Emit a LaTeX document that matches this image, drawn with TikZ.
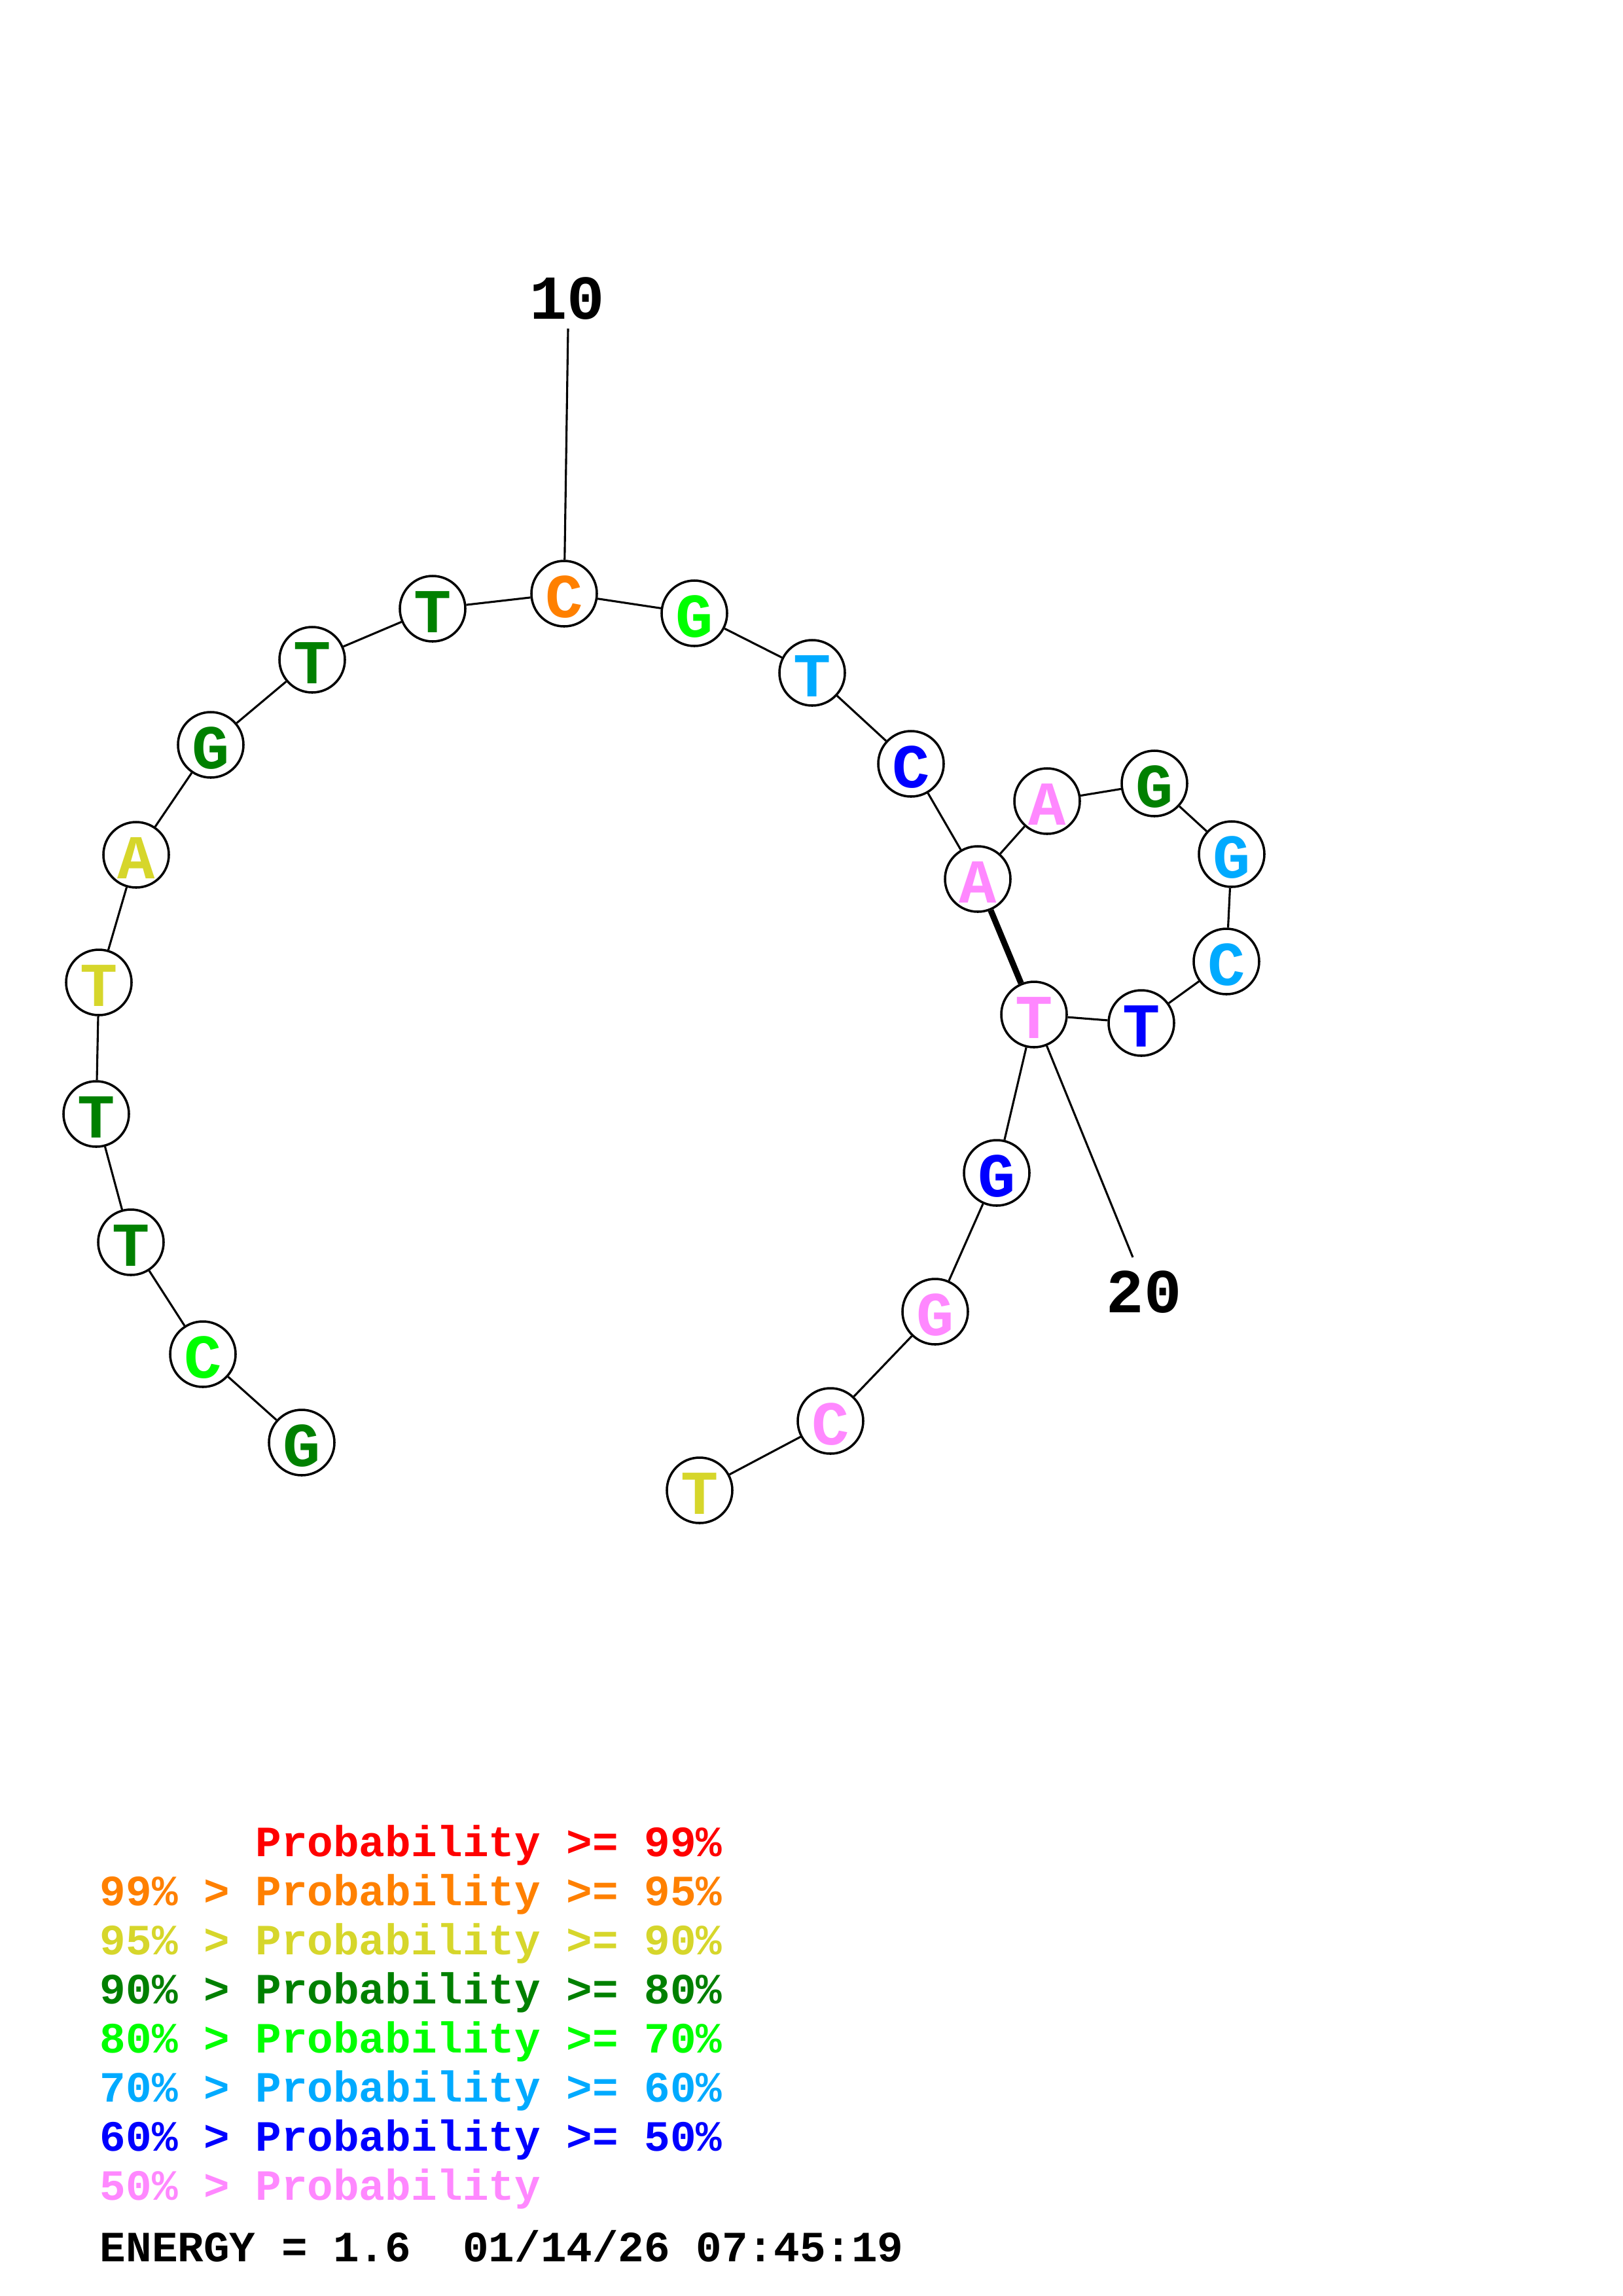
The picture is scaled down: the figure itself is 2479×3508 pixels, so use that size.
\documentclass[tikz,border=0pt]{standalone}
\usepackage{fontspec}
\setmonofont{Liberation Mono}

\definecolor{pRed}{RGB}{255,0,0}
\definecolor{pOrange}{RGB}{255,128,0}
\definecolor{pYellow}{RGB}{214,214,43}
\definecolor{pDkGreen}{RGB}{0,128,0}
\definecolor{pGreen}{RGB}{0,255,0}
\definecolor{pSky}{RGB}{0,170,255}
\definecolor{pBlue}{RGB}{0,0,255}
\definecolor{pPink}{RGB}{255,136,255}

\begin{document}
\begin{tikzpicture}[
    x=0.24bp, y=-0.24bp,
    base/.style={
        circle,
        draw=black,
        fill=white,
        line width=0.85bp,
        inner sep=0pt,
        minimum size=24bp,
        text height=17.5bp,
        text depth=0pt,
        font=\ttfamily\bfseries\fontsize{23}{23}\selectfont
    },
    link/.style={
        line width=0.75bp,
        draw=black
    },
    pair/.style={
        line width=2.2bp,
        draw=black
    },
    numlab/.style={
        inner sep=0pt,
        font=\ttfamily\bfseries\fontsize{23}{23}\selectfont
    },
    legend/.style={
        anchor=base west,
        inner sep=0pt,
        font=\ttfamily\bfseries\fontsize{15.9}{19}\selectfont
    }
]
\useasboundingbox (0,0) rectangle (2479,3508);

% Bases
\node (g1) [base, text=pDkGreen] at (461,2204) {G};
\node (c2) [base, text=pGreen] at (310,2069) {C};
\node (t3) [base, text=pDkGreen] at (200,1898) {T};
\node (t4) [base, text=pDkGreen] at (147,1702) {T};
\node (t5) [base, text=pYellow] at (151,1501) {T};
\node (a6) [base, text=pYellow] at (208,1306) {A};
\node (g7) [base, text=pDkGreen] at (322,1138) {G};
\node (t8) [base, text=pDkGreen] at (477,1008) {T};
\node (t9) [base, text=pDkGreen] at (661,930) {T};
\node (c10) [base, text=pOrange] at (862,907) {C};
\node (g11) [base, text=pGreen] at (1061,937) {G};
\node (t12) [base, text=pSky] at (1241,1028) {T};
\node (c13) [base, text=pBlue] at (1392,1167) {C};
\node (a14) [base, text=pPink] at (1494,1343) {A};
\node (a15) [base, text=pPink] at (1600,1224) {A};
\node (g16) [base, text=pDkGreen] at (1764,1197) {G};
\node (g17) [base, text=pSky] at (1882,1305) {G};
\node (c18) [base, text=pSky] at (1874,1469) {C};
\node (t19) [base, text=pBlue] at (1744,1563) {T};
\node (t20) [base, text=pPink] at (1580,1550) {T};
\node (g21) [base, text=pBlue] at (1523,1792) {G};
\node (g22) [base, text=pPink] at (1429,2004) {G};
\node (c23) [base, text=pPink] at (1269,2171) {C};
\node (t24) [base, text=pYellow] at (1069,2277) {T};

% Backbone
\draw [link] (g1) -- (c2);
\draw [link] (c2) -- (t3);
\draw [link] (t3) -- (t4);
\draw [link] (t4) -- (t5);
\draw [link] (t5) -- (a6);
\draw [link] (a6) -- (g7);
\draw [link] (g7) -- (t8);
\draw [link] (t8) -- (t9);
\draw [link] (t9) -- (c10);
\draw [link] (c10) -- (g11);
\draw [link] (g11) -- (t12);
\draw [link] (t12) -- (c13);
\draw [link] (c13) -- (a14);
\draw [link] (a14) -- (a15);
\draw [link] (a15) -- (g16);
\draw [link] (g16) -- (g17);
\draw [link] (g17) -- (c18);
\draw [link] (c18) -- (t19);
\draw [link] (t19) -- (t20);
\draw [link] (t20) -- (g21);
\draw [link] (g21) -- (g22);
\draw [link] (g22) -- (c23);
\draw [link] (c23) -- (t24);

% Pair
\draw [pair] (a14) -- (t20);

% Numbering
\coordinate (tip10) at (868,502);
\coordinate (tip20) at (1731,1921);
\draw [link] (c10) -- (tip10);
\draw [link] (t20) -- (tip20);
\node (lab10) [numlab] at (867,456) {10};
\node (lab20) [numlab] at (1748,1974) {20};

% Legend
\node (leg1) [legend, text=pRed] at (152,2836) {\phantom{99\% > }Probability >= 99\%};
\node (leg2) [legend, text=pOrange] at (152,2911) {99\% > Probability >= 95\%};
\node (leg3) [legend, text=pYellow] at (152,2986) {95\% > Probability >= 90\%};
\node (leg4) [legend, text=pDkGreen] at (152,3061) {90\% > Probability >= 80\%};
\node (leg5) [legend, text=pGreen] at (152,3136) {80\% > Probability >= 70\%};
\node (leg6) [legend, text=pSky] at (152,3211) {70\% > Probability >= 60\%};
\node (leg7) [legend, text=pBlue] at (152,3286) {60\% > Probability >= 50\%};
\node (leg8) [legend, text=pPink] at (152,3361) {50\% > Probability};
\node (energy) [legend, text=black] at (152,3455) {ENERGY = 1.6\ \ 01/14/26 07:45:19};

\end{tikzpicture}
\end{document}
